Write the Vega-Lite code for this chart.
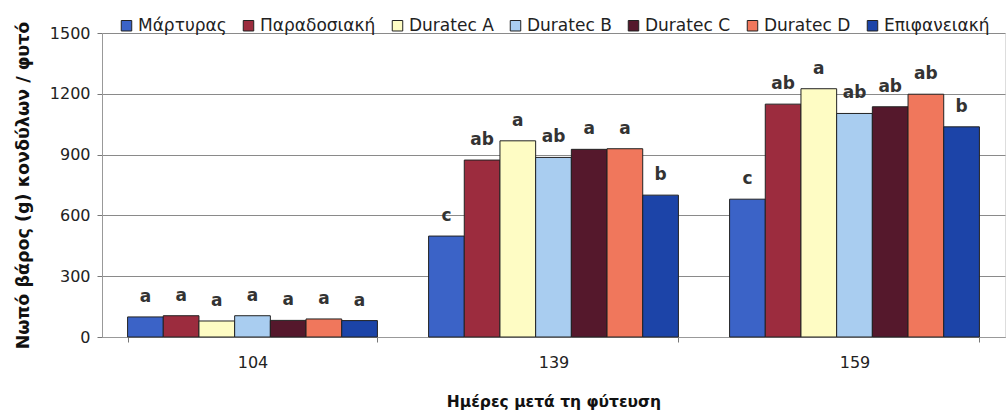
{
  "$schema": "https://vega.github.io/schema/vega-lite/v6.json",
  "width": 903,
  "height": 304,
  "autosize": {"type": "none"},
  "padding": {"left": 102, "top": 33, "right": 2, "bottom": 76},
  "background": "white",
  "data": {"values": [
    {"day": "104", "treat": "Μάρτυρας", "weight": 99, "sig": "a"},
    {"day": "104", "treat": "Παραδοσιακή", "weight": 105, "sig": "a"},
    {"day": "104", "treat": "Duratec A", "weight": 79, "sig": "a"},
    {"day": "104", "treat": "Duratec B", "weight": 105, "sig": "a"},
    {"day": "104", "treat": "Duratec C", "weight": 82, "sig": "a"},
    {"day": "104", "treat": "Duratec D", "weight": 89, "sig": "a"},
    {"day": "104", "treat": "Επιφανειακή", "weight": 81, "sig": "a"},
    {"day": "139", "treat": "Μάρτυρας", "weight": 498, "sig": "c"},
    {"day": "139", "treat": "Παραδοσιακή", "weight": 873, "sig": "ab"},
    {"day": "139", "treat": "Duratec A", "weight": 968, "sig": "a"},
    {"day": "139", "treat": "Duratec B", "weight": 886, "sig": "ab"},
    {"day": "139", "treat": "Duratec C", "weight": 926, "sig": "a"},
    {"day": "139", "treat": "Duratec D", "weight": 929, "sig": "a"},
    {"day": "139", "treat": "Επιφανειακή", "weight": 700, "sig": "b"},
    {"day": "159", "treat": "Μάρτυρας", "weight": 680, "sig": "c"},
    {"day": "159", "treat": "Παραδοσιακή", "weight": 1149, "sig": "ab"},
    {"day": "159", "treat": "Duratec A", "weight": 1225, "sig": "a"},
    {"day": "159", "treat": "Duratec B", "weight": 1103, "sig": "ab"},
    {"day": "159", "treat": "Duratec C", "weight": 1136, "sig": "ab"},
    {"day": "159", "treat": "Duratec D", "weight": 1198, "sig": "ab"},
    {"day": "159", "treat": "Επιφανειακή", "weight": 1037, "sig": "b"}
  ]},
  "encoding": {
    "x": {
      "field": "day", "type": "nominal",
      "scale": {"paddingInner": 0.17, "paddingOuter": 0.085},
      "axis": {
        "title": "Ημέρες μετά τη φύτευση",
        "titleFont": "DejaVu Sans", "titleFontSize": 15.5, "titleFontWeight": "bold", "titleColor": "#111",
        "titlePadding": 24,
        "labelAngle": 0, "labelFont": "DejaVu Sans", "labelFontSize": 16, "labelColor": "#222", "labelPadding": 12,
        "tickBand": "extent", "tickSize": 5, "tickColor": "#777", "domainColor": "#999", "grid": false
      }
    },
    "xOffset": {
      "field": "treat", "type": "nominal",
      "sort": ["Μάρτυρας", "Παραδοσιακή", "Duratec A", "Duratec B", "Duratec C", "Duratec D", "Επιφανειακή"],
      "scale": {"paddingInner": 0, "paddingOuter": 0}
    },
    "y": {
      "field": "weight", "type": "quantitative",
      "scale": {"domain": [0, 1500]},
      "axis": {
        "title": "Νωπό βάρος (g) κονδύλων / φυτό",
        "titleFont": "DejaVu Sans", "titleFontSize": 17.5, "titleFontWeight": "bold", "titleColor": "#111",
        "titlePadding": 17,
        "values": [0, 300, 600, 900, 1200, 1500], "format": "d",
        "labelFont": "DejaVu Sans", "labelFontSize": 16, "labelColor": "#222", "labelPadding": 7,
        "tickSize": 5, "tickColor": "#777", "domainColor": "#999",
        "grid": true, "gridColor": "#8a8a8a", "gridWidth": 1
      }
    }
  },
  "layer": [
    {
      "mark": {"type": "bar", "stroke": "#222", "strokeWidth": 1},
      "encoding": {
        "color": {
          "field": "treat", "type": "nominal",
          "sort": ["Μάρτυρας", "Παραδοσιακή", "Duratec A", "Duratec B", "Duratec C", "Duratec D", "Επιφανειακή"],
          "scale": {
            "domain": ["Μάρτυρας", "Παραδοσιακή", "Duratec A", "Duratec B", "Duratec C", "Duratec D", "Επιφανειακή"],
            "range": ["#3b63c7", "#9c2c3e", "#fefcc4", "#a9cdf0", "#55182c", "#f0775c", "#1c44a8"]
          },
          "legend": {
            "title": null, "orient": "none", "direction": "horizontal",
            "legendX": 16, "legendY": -16,
            "symbolType": "square", "symbolSize": 110, "symbolStrokeColor": "#222", "symbolStrokeWidth": 1,
            "labelFont": "DejaVu Sans", "labelFontSize": 17, "labelColor": "#222",
            "columnPadding": 13, "labelOffset": 3, "columns": 7
          }
        }
      }
    },
    {
      "mark": {"type": "text", "baseline": "alphabetic", "dy": -15, "font": "DejaVu Sans", "fontSize": 17, "fontWeight": "bold", "color": "#333"},
      "encoding": {"text": {"field": "sig"}}
    }
  ]
}
